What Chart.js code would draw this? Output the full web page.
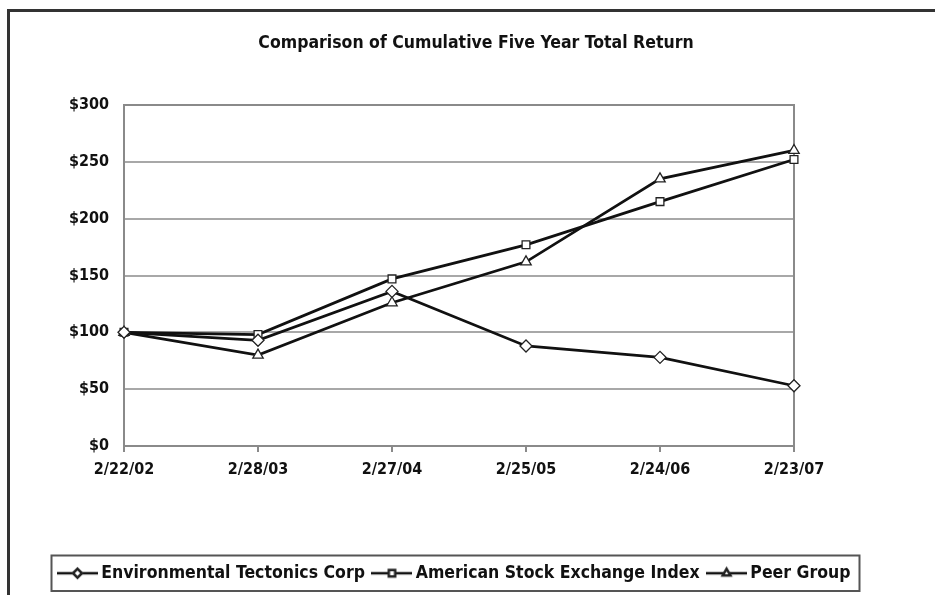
<!DOCTYPE html>
<html>
<head>
<meta charset="utf-8">
<script src="https://cdn.jsdelivr.net/npm/chart.js@4/dist/chart.umd.min.js"></script>
<style>
  html, body { margin: 0; padding: 0; background: #fff; overflow: hidden; }
  #wrap { position: relative; width: 935px; height: 595px; }
  #frame { position: absolute; left: 7px; top: 9px; right: 0; bottom: 0;
           border-top: 3px solid #333; border-left: 3px solid #333; }
  #c { position: absolute; left: 0; top: 0; }
</style>
</head>
<body>
<div id="wrap">
  <div id="frame"></div>
  <canvas id="c" width="935" height="595"></canvas>
</div>
<script>
// Cumulative total return of $100 invested on 2/22/02
const periods = ['2/22/02', '2/28/03', '2/27/04', '2/25/05', '2/24/06', '2/23/07'];
const etcReturns = [100, 93, 136, 88, 78, 53];
const amexReturns = [100, 98, 147, 177, 215, 252];
const peerReturns = [100, 80, 126, 162, 235, 260];
const seriesNames = ['Environmental Tectonics Corp', 'American Stock Exchange Index', 'Peer Group'];
const yTickValues = [0, 50, 100, 150, 200, 250, 300];

const FONT = "'Liberation Sans Narrow', 'Arial Narrow', 'DejaVu Sans Condensed', sans-serif";
const markerStyles = ['rectRot', 'rect', 'triangle'];
const PLOT_BOTTOM = 446;      // y of the $0 line
const LEGEND_START = 62.5;    // x where the first legend item begins

// Legend key: a short line with the series marker in the middle
function legendKey(style) {
  const c = document.createElement('canvas');
  c.width = 41; c.height = 16;
  const g = c.getContext('2d');
  g.strokeStyle = '#111'; g.lineWidth = 2.5;
  g.beginPath(); g.moveTo(0, 8); g.lineTo(41, 8); g.stroke();
  g.fillStyle = '#fff'; g.strokeStyle = '#222';
  Chart.helpers.drawPoint(g, { pointStyle: style, radius: 4.5, borderWidth: 1.2, rotation: 0 }, 20.5, 8);
  return c;
}

const plotFrame = {
  id: 'plotFrame',
  beforeDatasetsDraw(chart) {
    const { ctx, chartArea: a } = chart;
    ctx.save();
    ctx.strokeStyle = '#8a8a8a';
    ctx.lineWidth = 2;
    ctx.strokeRect(a.left, a.top, a.right - a.left, a.bottom - a.top);
    ctx.restore();
  }
};

// Place the legend row and draw its surrounding box
const legendFrame = {
  id: 'legendFrame',
  afterLayout(chart) {
    const lg = chart.legend;
    if (!lg || !lg.lineWidths) return;
    const pad = lg.options.labels.padding;
    const x0 = (lg.left + pad + lg.right - lg.lineWidths[0]) / 2;
    const shift = LEGEND_START - x0;
    lg.left += shift;
    lg.right += shift;
  },
  afterDraw(chart) {
    const boxes = chart.legend && chart.legend.legendHitBoxes;
    if (!boxes || !boxes.length) return;
    let l = Infinity, r = -Infinity, t = Infinity, b = -Infinity;
    boxes.forEach(h => {
      l = Math.min(l, h.left); r = Math.max(r, h.left + h.width);
      t = Math.min(t, h.top); b = Math.max(b, h.top + h.height);
    });
    const ctx = chart.ctx;
    ctx.save();
    ctx.strokeStyle = '#555';
    ctx.lineWidth = 2;
    ctx.strokeRect(l - 11, t - 9, r - l + 20, b - t + 18);
    ctx.restore();
  }
};

const values = [etcReturns, amexReturns, peerReturns];
const datasets = values.map((v, i) => ({
  label: seriesNames[i],
  data: v,
  borderColor: '#111',
  borderWidth: 2.75,
  backgroundColor: '#fff',
  pointStyle: markerStyles[i],
  pointRadius: i === 1 ? 5.5 : 6,
  pointBorderWidth: 1.3,
  pointBorderColor: '#222',
  pointBackgroundColor: '#fff',
  tension: 0,
  fill: false
}));

new Chart(document.getElementById('c'), {
  type: 'line',
  data: { labels: periods, datasets },
  options: {
    responsive: false,
    animation: false,
    layout: { padding: { left: 17, right: 0, top: 0, bottom: 3 } },
    plugins: {
      title: {
        display: true,
        text: 'Comparison of Cumulative Five Year Total Return',
        color: '#111',
        font: { family: FONT, size: 17.5, weight: 'bold' },
        padding: { top: 33, bottom: 51 }
      },
      legend: {
        position: 'bottom',
        fullSize: true,
        labels: {
          usePointStyle: true,
          pointStyleWidth: 30,
          boxHeight: 16,
          padding: 12,
          color: '#111',
          font: { family: FONT, size: 17.5, weight: 'bold' },
          generateLabels: chart => chart.data.datasets.map((d, i) => ({
            text: d.label,
            pointStyle: legendKey(markerStyles[i]),
            fillStyle: '#fff',
            strokeStyle: '#111',
            lineWidth: 0,
            hidden: false,
            datasetIndex: i,
            fontColor: '#111'
          }))
        }
      },
      tooltip: { enabled: false }
    },
    scales: {
      x: {
        offset: false,
        grid: { display: true, drawOnChartArea: false, drawTicks: true, tickLength: 6, color: '#8a8a8a', lineWidth: 2 },
        border: { display: true, color: '#8a8a8a', width: 2 },
        ticks: { color: '#111', font: { family: FONT, size: 16, weight: 'bold' }, padding: 8, maxRotation: 0, autoSkip: false },
        afterFit(s) {
          const lg = s.chart.legend;
          const lh = lg && lg.height ? lg.height : 40;
          s.height = 595 - 3 - lh - PLOT_BOTTOM;
        }
      },
      y: {
        min: 0, max: 300,
        afterBuildTicks(s) { s.ticks = yTickValues.map(v => ({ value: v })); },
        ticks: { color: '#111', font: { family: FONT, size: 16, weight: 'bold' }, padding: 15, callback: v => '$' + v },
        grid: { color: '#a8a8a8', lineWidth: 2, drawTicks: false },
        border: { display: false },
        afterFit(s) { s.width = 107; }
      },
      yRight: {
        position: 'right',
        display: true,
        grid: { display: false },
        border: { display: false },
        ticks: { display: false },
        afterFit(s) { s.width = 141; }
      }
    }
  },
  plugins: [plotFrame, legendFrame]
});
</script>
</body>
</html>
